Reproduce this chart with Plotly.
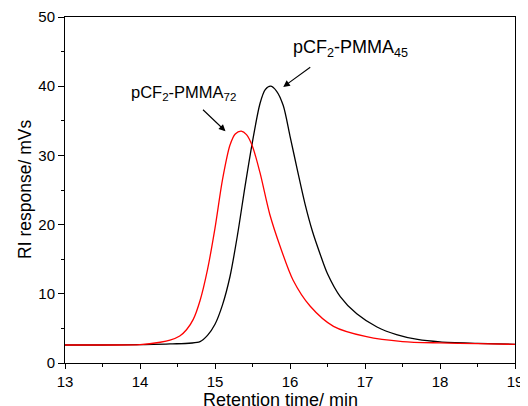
import plotly.graph_objects as go

# retention time (min) and RI response (mV s)
t_45 = [13.0, 13.5, 14.0, 14.4, 14.8, 14.9, 15.0, 15.1, 15.2, 15.3, 15.4, 15.5, 15.6, 15.67, 15.74,
        15.82, 15.91, 16.0, 16.1, 16.2, 16.3, 16.4, 16.5, 16.67, 16.89, 17.16, 17.42, 17.7, 18.0,
        18.5, 19.0]
ri_45 = [2.6, 2.6, 2.65, 2.75, 3.1, 4.0, 5.6, 8.4, 12.5, 18.5, 25.5, 32.0, 37.5, 39.5, 40.0,
         39.3, 37.2, 32.8, 27.8, 23.0, 19.0, 15.8, 12.9, 9.6, 7.1, 5.2, 4.1, 3.4, 3.05,
         2.85, 2.7]

t_72 = [13.0, 13.5, 14.0, 14.27, 14.4, 14.53, 14.62, 14.71, 14.8, 14.9, 15.0, 15.1, 15.2, 15.27,
        15.35, 15.42, 15.5, 15.6, 15.73, 15.87, 16.04, 16.27, 16.58, 17.02, 17.5, 18.0, 18.5, 19.0]
ri_72 = [2.6, 2.6, 2.65, 3.0, 3.3, 3.9, 4.8, 6.3, 9.0, 13.5, 19.5, 26.5, 31.5, 33.1,
         33.5, 33.0, 31.3, 27.5, 21.5, 16.8, 12.0, 8.2, 5.3, 3.8, 3.1, 2.9, 2.8, 2.7]

font = "Liberation Sans, Arial, sans-serif"

fig = go.Figure()
fig.add_trace(go.Scatter(x=t_45, y=ri_45, mode="lines", showlegend=False,
                         line=dict(color="black", width=1.3, shape="spline", smoothing=0.8)))
fig.add_trace(go.Scatter(x=t_72, y=ri_72, mode="lines", showlegend=False,
                         line=dict(color="#ff0000", width=1.3, shape="spline", smoothing=0.8)))

# arrows
fig.add_annotation(x=15.91, y=39.9, ax=16.29, ay=42.9, xref="x", yref="y", axref="x", ayref="y",
                   text="", showarrow=True, arrowhead=2, arrowsize=1.2, arrowwidth=1.1, arrowcolor="black")
fig.add_annotation(x=15.14, y=33.5, ax=14.82, ay=36.8, xref="x", yref="y", axref="x", ayref="y",
                   text="", showarrow=True, arrowhead=2, arrowsize=1.2, arrowwidth=1.1, arrowcolor="black")
# labels
fig.add_annotation(x=16.80, y=45.4, xref="x", yref="y", showarrow=False,
                   text="pCF<sub>2</sub>-PMMA<sub>45</sub>", font=dict(family=font, size=18, color="black"))
fig.add_annotation(x=14.58, y=38.95, xref="x", yref="y", showarrow=False,
                   text="pCF<sub>2</sub>-PMMA<sub>72</sub>", font=dict(family=font, size=16.5, color="black"))
# axis titles as annotations (x title sits a little left of centre in the reference)
fig.add_annotation(x=0.478, y=-0.107, xref="paper", yref="paper", showarrow=False,
                   xanchor="center", yanchor="middle",
                   text="Retention time/ min", font=dict(family=font, size=18, color="black"))
fig.add_annotation(x=-0.089, y=0.503, xref="paper", yref="paper", showarrow=False, textangle=-90,
                   xanchor="center", yanchor="middle",
                   text="RI response/ mVs", font=dict(family=font, size=17.5, color="black"))

fig.update_xaxes(range=[13, 19], dtick=1, ticks="outside", ticklen=5, tickwidth=1, tickcolor="black",
                 minor=dict(dtick=0.5, ticks="outside", ticklen=3, tickcolor="black"),
                 showline=True, linecolor="black", linewidth=1, mirror=True, showgrid=False, zeroline=False,
                 tickfont=dict(family=font, size=15, color="black"), automargin=False)
fig.update_yaxes(range=[0, 50], dtick=10, ticks="outside", ticklen=6, tickwidth=1, tickcolor="black",
                 minor=dict(dtick=5, ticks="outside", ticklen=3, tickcolor="black"),
                 showline=True, linecolor="black", linewidth=1, mirror=True, showgrid=False, zeroline=False,
                 tickfont=dict(family=font, size=15, color="black"), automargin=False)
# the page body adds an 8px offset, so margins are trimmed by 8px on the top/left
fig.update_layout(width=528, height=406, margin=dict(l=57, r=21, t=9, b=51),
                  plot_bgcolor="white", paper_bgcolor="white")
fig.write_html("out.html")
